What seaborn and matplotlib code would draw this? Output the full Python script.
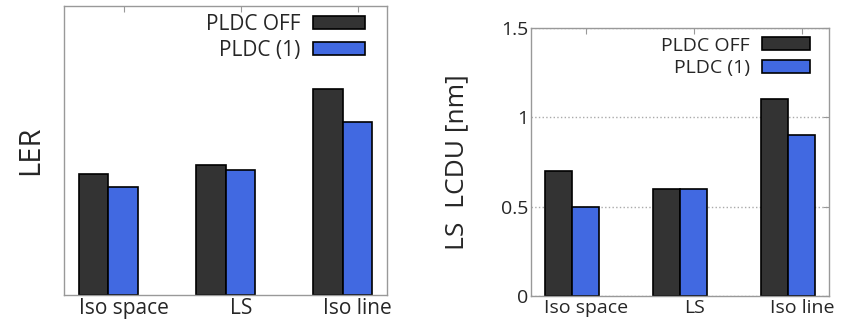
import matplotlib
matplotlib.use("Agg")
import matplotlib.pyplot as plt
import seaborn as sns
import pandas as pd

sns.set_style("white")
plt.rcParams['font.family'] = ['Open Sans', 'DejaVu Sans']

categories = ["Iso space", "LS", "Iso line"]
series = ["PLDC OFF", "PLDC (1)"]
# LER panel has no y scale; values read on an arbitrary 0-6 scale
ler_off = [2.51, 2.70, 4.28]
ler_pldc = [2.24, 2.60, 3.59]
lcdu_off = [0.70, 0.60, 1.10]
lcdu_pldc = [0.50, 0.60, 0.90]

colors = ["#333333", "#4169e1"]


def make_df(off, pldc):
    return pd.DataFrame({
        "cat": categories * 2,
        "series": [series[0]] * 3 + [series[1]] * 3,
        "value": off + pldc,
    })


def draw(ax, df, ylim, ylabel, ylabel_size, leg_size, tick_size, anchor):
    sns.barplot(data=df, x="cat", y="value", hue="series", order=categories,
                hue_order=series, palette=colors, width=0.5, edgecolor="black",
                linewidth=1.2, saturation=1, ax=ax)
    ax.set_xlim(-0.38, 2.38)
    ax.set_ylim(*ylim)
    ax.set_xticks([i + 0.13 for i in range(3)])
    ax.set_xticklabels(categories, fontsize=tick_size + 1)
    ax.set_xlabel("")
    ax.set_ylabel(ylabel, fontsize=ylabel_size)
    for s in ax.spines.values():
        s.set_color("#999999")
        s.set_linewidth(1.0)
    ax.tick_params(direction="in", top=True, right=True, length=4,
                   color="#999999", labelsize=tick_size, pad=2)
    ax.legend(loc="upper right", bbox_to_anchor=anchor, frameon=False,
              markerfirst=False, handlelength=2.5, handleheight=0.6,
              labelspacing=0.25, fontsize=leg_size, borderaxespad=0.3,
              handletextpad=0.6)


fig = plt.figure(figsize=(8.41, 3.23), dpi=100)
ax1 = fig.add_axes([64 / 841, 28 / 323, 323 / 841, 289 / 323])
ax2 = fig.add_axes([531 / 841, 27 / 323, 298 / 841, 268 / 323])

draw(ax1, make_df(ler_off, ler_pldc), (0, 6), "LER", 21, 15, 15,
     (0.978, 1.024))
ax1.set_yticklabels([])
ax1.tick_params(axis="y", left=False, right=False)
ax1.yaxis.set_label_coords(-0.057, 0.5)

draw(ax2, make_df(lcdu_off, lcdu_pldc), (0, 1.5), "LS  LCDU [nm]", 19, 14, 14,
     (0.983, 1.019))
ax2.set_yticks([0, 0.5, 1, 1.5])
ax2.set_yticklabels(["0", "0.5", "1", "1.5"])
ax2.yaxis.grid(True, linestyle=":", color="#aaaaaa", linewidth=1)
ax2.set_axisbelow(True)
ax2.yaxis.set_label_coords(-0.206, 0.5)

fig.savefig("out.png", dpi=100)
